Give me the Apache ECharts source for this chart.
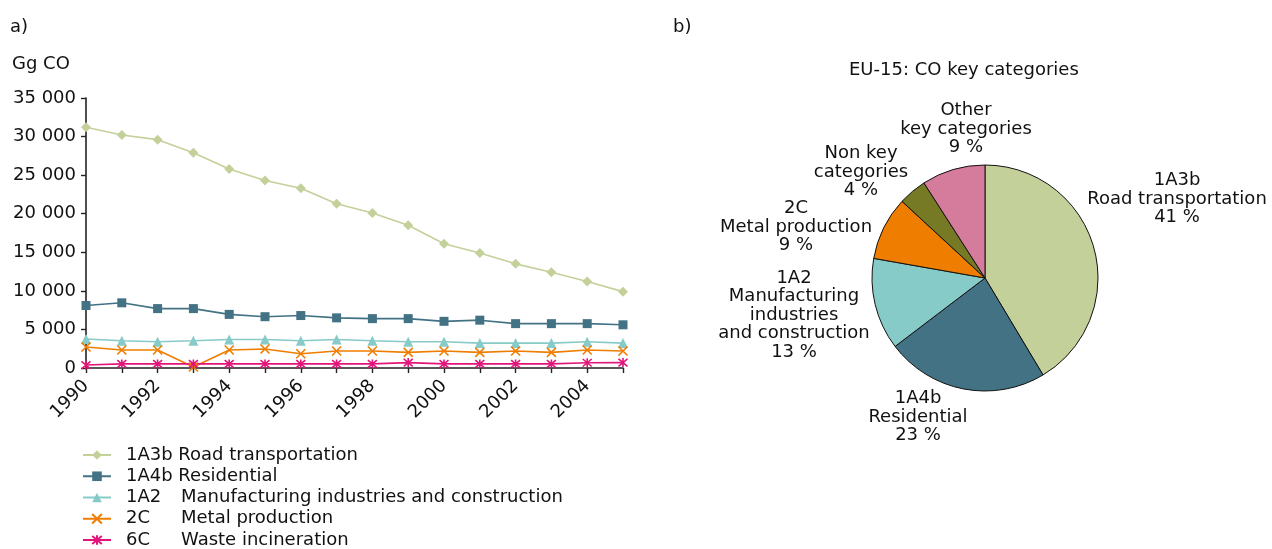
<!DOCTYPE html>
<html>
<head>
<meta charset="utf-8">
<script src="https://cdn.jsdelivr.net/npm/echarts@6/dist/echarts.min.js"></script>
<style>
  html, body { margin: 0; padding: 0; background: #fff; }
  #chart { width: 1272px; height: 549px; }
</style>
</head>
<body>
<div id="chart"></div>
<script>
var years = ['1990', '1991', '1992', '1993', '1994', '1995', '1996', '1997',
             '1998', '1999', '2000', '2001', '2002', '2003', '2004', '2005'];
var roadTransport = [31200, 30200, 29600, 27900, 25800, 24300, 23300, 21300,
                     20100, 18500, 16100, 14900, 13500, 12400, 11200, 9900];
var residential = [8100, 8450, 7700, 7700, 6950, 6650, 6800, 6500,
                   6400, 6400, 6050, 6200, 5750, 5750, 5750, 5600];
var manufacturing = [3750, 3530, 3400, 3530, 3700, 3700, 3530, 3700,
                     3530, 3400, 3400, 3230, 3230, 3230, 3400, 3230];
var metalProduction = [2720, 2330, 2330, 130, 2330, 2460, 1850, 2200,
                       2200, 2020, 2200, 2020, 2200, 2020, 2330, 2200];
var wasteIncineration = [380, 530, 530, 530, 530, 530, 530, 530,
                         530, 700, 530, 530, 530, 530, 680, 700];

var pieNames = ['1A3b\nRoad transportation', '1A4b\nResidential',
                '1A2\nManufacturing\nindustries\nand construction',
                '2C\nMetal production', 'Non key\ncategories', 'Other\nkey categories'];
var pieValues = [41, 23, 13, 9, 4, 9];

// label centres for the pie (layout only)
var pieLabelPos = [[1177, 199], [918, 417], [794, 315], [796, 227], [861, 172], [966, 129]];
var pieColors = ['#c4d09a', '#437285', '#86cbc8', '#ef7d00', '#767a24', '#d57b9b'];

var FONT = 'DejaVu Sans';
var crossPath = 'path://M0,0L10,10M10,0L0,10';
var starPath = 'path://M0,0L10,10M10,0L0,10M5,-1L5,11';

function lineSeries(name, data, color, symbol, size, stroke){
    return {
        name: name,
        type: 'line',
        data: data,
        symbol: symbol,
        symbolSize: size,
        showAllSymbol: true,
        lineStyle: {color: color, width: 1.6},
        itemStyle: stroke ? {color: color, borderColor: color, borderWidth: 1.6} : {color: color},
        emphasis: {disabled: true}
    };
}

var myChart = echarts.init(document.getElementById('chart'));
var option = {
    animation: false,
    textStyle: {fontFamily: FONT},
    graphic: [
        {type: 'text', left: 10, top: 18, style: {text: 'a)', font: '18px "DejaVu Sans"', fill: '#111'}},
        {type: 'text', left: 12, top: 55, style: {text: 'Gg CO', font: '18px "DejaVu Sans"', fill: '#111'}},
        {type: 'text', left: 673, top: 18, style: {text: 'b)', font: '18px "DejaVu Sans"', fill: '#111'}},
        {type: 'text', left: 849, top: 61, style: {text: 'EU-15: CO key categories', font: '18px "DejaVu Sans"', fill: '#111'}}
    ],
    grid: {left: 86, right: 649, top: 98, bottom: 181},
    xAxis: {
        type: 'category',
        data: years,
        boundaryGap: false,
        axisLine: {lineStyle: {color: '#222', width: 1.6}},
        axisTick: {interval: 0, length: 5, lineStyle: {color: '#222', width: 1.4}},
        axisLabel: {interval: 1, rotate: 45, margin: 15, fontSize: 18, color: '#111', fontFamily: FONT}
    },
    yAxis: {
        type: 'value',
        min: 0,
        max: 35000,
        interval: 5000,
        splitLine: {show: false},
        axisLine: {show: true, lineStyle: {color: '#222', width: 1.6}},
        axisTick: {show: true, length: 5, lineStyle: {color: '#222', width: 1.4}},
        axisLabel: {
            fontSize: 18, color: '#111', margin: 10, fontFamily: FONT,
            formatter: function(v){
                return String(v).replace(/\B(?=(\d{3})+(?!\d))/g, ' ');
            }
        }
    },
    legend: {
        orient: 'vertical',
        left: 82,
        top: 446,
        height: 120,
        padding: 0,
        itemWidth: 28,
        itemHeight: 12,
        itemGap: 3.25,
        selectedMode: false,
        data: ['1A3b Road transportation', '1A4b Residential',
               '1A2 Manufacturing industries and construction',
               '2C Metal production', '6C Waste incineration'],
        formatter: function(name){
            var i = name.indexOf(' ');
            var code = name.slice(0, i), rest = name.slice(i + 1);
            if (code.length >= 4) {
                return '{d|' + name + '}';
            }
            return '{c|' + code + '}{d|' + rest + '}';
        },
        textStyle: {
            fontSize: 18,
            color: '#111',
            fontFamily: FONT,
            padding: [0, 0, 0, 10],
            rich: {
                c: {width: 55, fontSize: 18, fontFamily: FONT, color: '#111'},
                d: {fontSize: 18, fontFamily: FONT, color: '#111'}
            }
        }
    },
    series: [
        lineSeries('1A3b Road transportation', roadTransport, '#c4d09a', 'diamond', 10, false),
        lineSeries('1A4b Residential', residential, '#437285', 'rect', 9, false),
        lineSeries('1A2 Manufacturing industries and construction', manufacturing, '#86cbc8', 'triangle', 10, false),
        lineSeries('2C Metal production', metalProduction, '#ef7d00', crossPath, 9, true),
        lineSeries('6C Waste incineration', wasteIncineration, '#e2157a', starPath, 9, true),
        {
            type: 'pie',
            center: [985, 278],
            radius: 113,
            startAngle: 90,
            clockwise: true,
            emphasis: {disabled: true},
            itemStyle: {borderColor: '#111', borderWidth: 1},
            label: {
                show: true,
                position: 'outside',
                fontSize: 18,
                lineHeight: 18.5,
                color: '#111',
                fontFamily: FONT,
                width: 300,
                overflow: 'none',
                formatter: function(p){ return p.name + '\n' + p.value + ' %'; }
            },
            labelLine: {show: false},
            labelLayout: function(p){
                var pos = pieLabelPos[p.dataIndex];
                return {x: pos[0], y: pos[1], align: 'center', verticalAlign: 'middle'};
            },
            data: pieNames.map(function(n, i){
                return {name: n, value: pieValues[i], itemStyle: {color: pieColors[i]}};
            })
        }
    ]
};
myChart.setOption(option);
</script>
</body>
</html>
